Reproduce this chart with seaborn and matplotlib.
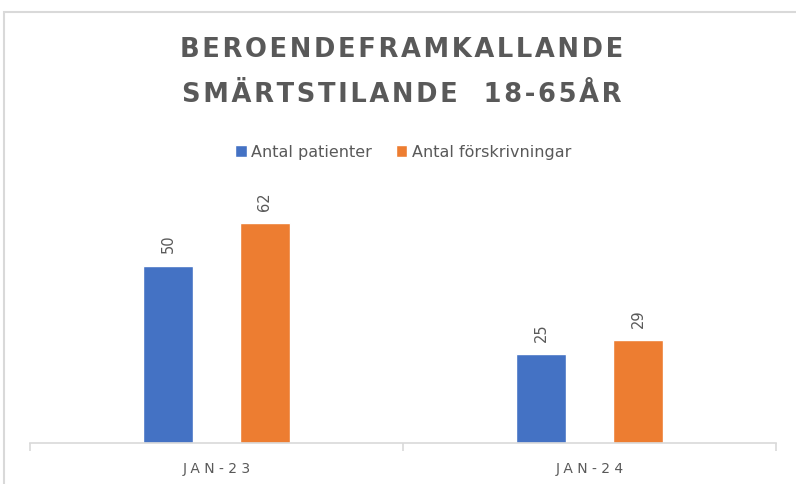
import numpy as np
import pandas as pd
import matplotlib.pyplot as plt
import seaborn as sns
from matplotlib.patches import Rectangle

# data
months = ['JAN-23', 'JAN-24']
patients = [50, 25]
prescriptions = [62, 29]
series_names = ['Antal patienter', 'Antal förskrivningar']
title_lines = ['BEROENDEFRAMKALLANDE', 'SMÄRTSTILANDE  18-65ÅR']

colors = ['#4472C4', '#ED7D31']
grey = '#595959'

df = pd.DataFrame({
    'month': months * 2,
    'value': patients + prescriptions,
    'series': [series_names[0]] * len(months) + [series_names[1]] * len(months),
})

sns.set_theme(style='white')
plt.rcParams['font.family'] = ['DejaVu Sans']

fig = plt.figure(figsize=(7.96, 4.84), dpi=100)
ax = fig.add_axes([30 / 796, 1 - 443 / 484, 746 / 796, 248 / 484])

sns.barplot(data=df, x='month', y='value', hue='series', palette=colors,
            saturation=1, width=0.52, gap=0.485, ax=ax, legend=True)

ax.set_ylim(0, 70)
ax.set_xlim(-0.5, 1.5)

# value labels, rotated like the original
for cont in ax.containers:
    ax.bar_label(cont, labels=[f'{v:.0f}' for v in cont.datavalues],
                 rotation=90, padding=9, color=grey, fontsize=10.5)

# axis styling
for s in ['top', 'left', 'right']:
    ax.spines[s].set_visible(False)
ax.spines['bottom'].set_color('#d9d9d9')
ax.spines['bottom'].set_linewidth(1.2)
ax.set_yticks([])
ax.set_xlabel('')
ax.set_ylabel('')
ax.set_xticks([0, 1])
ax.set_xticklabels([' '.join(m) for m in months], color=grey, fontsize=10)
ax.set_xticks([-0.5, 0.5, 1.5], minor=True)
ax.tick_params(axis='x', which='major', length=0, pad=14)
ax.tick_params(axis='x', which='minor', length=6, color='#d9d9d9', width=1.2,
               bottom=True, direction='out')

# legend on top
leg = ax.legend(loc='center', bbox_to_anchor=(0.507, 1 - 152 / 484), bbox_transform=fig.transFigure,
                ncol=2, frameon=False, fontsize=11.5, handlelength=0.7, handleheight=0.7,
                handletextpad=0.3, columnspacing=1.5)
for t in leg.get_texts():
    t.set_color(grey)

# title, letter-spaced a little
for txt, ypx in zip(title_lines, [50, 95]):
    fig.text(0.505, 1 - ypx / 484, '\u200a'.join(txt), ha='center', va='center',
             fontsize=18.5, fontweight='bold', color=grey)

# chart border
fig.patches.append(Rectangle((4 / 796, -0.05), 1.2, 1 - 12 / 484 + 0.05,
                             transform=fig.transFigure, fill=False,
                             edgecolor='#d9d9d9', linewidth=1.5))

plt.savefig('out.png', dpi=100)
